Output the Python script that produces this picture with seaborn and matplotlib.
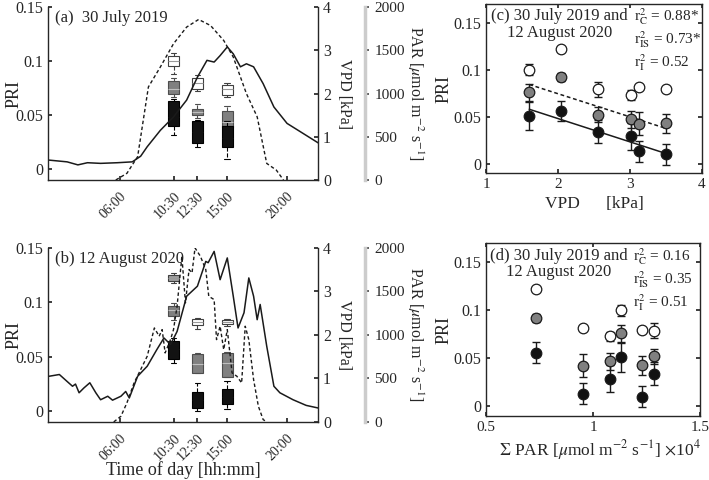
import numpy as np
import pandas as pd
import matplotlib
matplotlib.use("Agg")
import matplotlib.pyplot as plt
import seaborn as sns

# ─── Data ─────────────────────────────────────────────────────────────────────
TIME_TICKS = [6.0, 10.5, 12.5, 15.0, 20.0]
TIME_LABELS = ["06:00", "10:30", "12:30", "15:00", "20:00"]
BOX_TIMES = [10.5, 12.5, 15.0]

# five readings per box: lower whisker, q1, median, q3, upper whisker
A_WHITE = [[0.0886, 0.096, 0.100, 0.1045, 0.108],
           [0.072, 0.0747, 0.080, 0.0845, 0.087],
           [0.067, 0.069, 0.0738, 0.0778, 0.080]]
A_GRAY = [[0.067, 0.070, 0.0738, 0.0817, 0.0845],
          [0.0476, 0.050, 0.053, 0.0556, 0.060],
          [0.037, 0.0393, 0.044, 0.0538, 0.0584]]
A_BLACK = [[0.032, 0.040, 0.0485, 0.063, 0.065],
           [0.0203, 0.0246, 0.034, 0.0446, 0.046],
           [0.0092, 0.0203, 0.029, 0.040, 0.045]]

B_WHITE = [[0.118, 0.1194, 0.1225, 0.1255, 0.127],
           [0.075, 0.0787, 0.0817, 0.0842, 0.086],
           [0.0785, 0.0805, 0.0823, 0.084, 0.085]]
B_GRAY = [[0.084, 0.0873, 0.0928, 0.097, 0.0998],
          [0.0346, 0.0346, 0.0429, 0.052, 0.0536],
          [0.0316, 0.0316, 0.0438, 0.053, 0.054]]
B_BLACK = [[0.0444, 0.048, 0.0566, 0.0643, 0.067],
           [0.0, 0.0031, 0.010, 0.0175, 0.026],
           [0.002, 0.0061, 0.013, 0.020, 0.0275]]

# VPD (solid) and PAR (dashed) diurnal courses
A_VPD_H = [0.1, 1.6, 2.5, 3.3, 4.4, 5.8, 7.05, 7.75, 8.3, 9.4, 10.5, 11.6,
           12.5, 13.3, 13.9, 14.4, 15.0, 15.5, 16.1, 16.6, 17.2, 18.0, 18.9,
           20.0, 21.1, 22.6]
A_VPD = [0.46, 0.42, 0.35, 0.40, 0.385, 0.40, 0.42, 0.55, 0.77, 1.15, 1.46,
         1.85, 2.38, 2.77, 2.73, 2.88, 3.08, 2.92, 2.62, 2.69, 2.62, 2.23,
         1.69, 1.31, 1.12, 0.86]
A_PAR_H = [5.67, 6.6, 7.5, 8.4, 9.4, 10.5, 11.6, 12.6, 13.6, 14.7, 15.5,
           16.6, 17.5, 18.3, 19.1, 19.7]
A_PAR = [0, 77, 270, 1077, 1308, 1577, 1770, 1858, 1788, 1615, 1423, 1000,
         731, 192, 115, 0]

B_VPD_H = [0.1, 0.95, 1.6, 2.05, 2.3, 2.6, 3.0, 3.5, 4.0, 4.4, 5.0, 5.4, 6.1,
           6.5, 6.8, 7.5, 8.3, 9.1, 9.7, 10.25, 10.8, 11.6, 12.5, 13.2, 13.4,
           13.9, 14.4, 15.0, 15.5, 15.9, 16.4, 16.8, 17.2, 17.5, 17.75, 18.3,
           18.9, 19.4, 20.5, 21.6, 22.6]
B_VPD = [1.05, 1.09, 0.93, 0.82, 0.87, 0.67, 0.78, 0.90, 0.67, 0.51, 0.59,
         0.50, 0.59, 0.70, 0.55, 1.05, 1.28, 1.66, 1.93, 1.78, 2.08, 2.89,
         3.12, 3.69, 3.66, 3.92, 3.27, 3.77, 2.89, 2.16, 2.51, 3.31, 2.89,
         2.35, 2.70, 1.74, 0.82, 0.67, 0.51, 0.38, 0.32]
B_PAR_H = [5.5, 6.1, 6.6, 7.2, 7.75, 8.3, 8.9, 9.3, 9.55, 9.8, 10.25, 10.5,
           10.8, 11.2, 11.5, 11.8, 12.05, 12.3, 12.75, 13.2, 13.45, 13.9,
           14.1, 14.4, 14.7, 15.0, 15.4, 15.8, 16.2, 16.5, 16.8, 17.2, 17.6,
           18.0, 18.3]
B_PAR = [0, 65, 218, 448, 601, 755, 1080, 985, 1061, 793, 946, 1061, 1330,
         1904, 1368, 1751, 1713, 2000, 1904, 1751, 1444, 1406, 946, 1100, 831,
         1061, 563, 525, 448, 1100, 946, 487, 180, 27, 0]

# Mean PRI +- error per measurement (both days pooled)
VPD_PTS = [1.60, 2.04, 2.55, 3.01, 3.12, 3.50]
PAR_SUM = [1.129, 0.733, 1.286, 1.080, 0.951, 1.229]   # x 10^4
PRI_WHITE = [0.100, 0.122, 0.079, 0.073, 0.082, 0.080]
ERR_WHITE = [0.006, 0.002, 0.008, 0.005, 0.002, 0.002]
PRI_GRAY = [0.076, 0.092, 0.052, 0.047, 0.0425, 0.043]
ERR_GRAY = [0.009, 0.004, 0.008, 0.009, 0.012, 0.010]
PRI_BLACK = [0.051, 0.056, 0.034, 0.029, 0.013, 0.010]
ERR_BLACK = [0.015, 0.011, 0.012, 0.014, 0.011, 0.011]

R2_C = ["0.88*", "0.73*", "0.52"]
R2_D = ["0.16", "0.35", "0.51"]

# ─── Style ────────────────────────────────────────────────────────────────────
sns.set_theme(style="ticks")
plt.rcParams["font.family"] = ["Liberation Serif", "DejaVu Serif"]
plt.rcParams["mathtext.fontset"] = "stix"
plt.rcParams["font.size"] = 11
plt.rcParams["axes.linewidth"] = 1.0

FS = 11.5
CLASSES = [
    # (fill, edge, median)
    ("white", "0.25", "0.6"),
    ("0.5", "0.3", "0.75"),
    ("0.07", "0.0", "0.07"),
]


def box_frame(boxes):
    rows = [(t, v) for t, vals in zip(BOX_TIMES, boxes) for v in vals]
    return pd.DataFrame(rows, columns=["time", "pri"])


def draw_day(ax, boxes, vpd_h, vpd, par_h, par, label, xlabel=None):
    for data, (fill, edge, med) in zip(boxes, CLASSES):
        sns.boxplot(data=box_frame(data), x="time", y="pri", native_scale=True,
                    width=0.48, color=fill, linecolor=edge, linewidth=0.8,
                    saturation=1, showfliers=False,
                    whiskerprops=dict(linestyle="--"),
                    medianprops=dict(color=med), ax=ax)
    ax.set_xlim(0, 22.6)
    ax.set_ylim(-0.01, 0.15)
    ax.set_yticks([0, 0.05, 0.1, 0.15])
    ax.set_yticklabels(["0", "0.05", "0.1", "0.15"], fontsize=FS)
    ax.set_xticks(TIME_TICKS)
    ax.set_xticklabels(TIME_LABELS, rotation=45, ha="right", va="top",
                       rotation_mode="anchor", fontsize=10)
    ax.set_ylabel("PRI", fontsize=13)
    ax.yaxis.set_label_coords(-0.095, 0.5)
    ax.set_xlabel(xlabel if xlabel else "", fontsize=13)
    ax.xaxis.set_label_coords(0.5, -0.225)
    ax.spines[["top", "right"]].set_visible(False)
    ax.tick_params(direction="in", length=3)
    ax.tick_params(axis="x", pad=7)
    ax.text(0.025, 0.935, label, transform=ax.transAxes, fontsize=FS + 0.5,
            va="center", ha="left")

    ax_vpd = ax.twinx()
    sns.lineplot(x=vpd_h, y=vpd, ax=ax_vpd, color="k", lw=1.1)
    ax_vpd.set_ylim(0, 4)
    ax_vpd.set_yticks([0, 1, 2, 3, 4])
    ax_vpd.set_yticklabels(["0", "1", "2", "3", "4"], fontsize=FS)
    ax_vpd.spines[["top", "left", "bottom"]].set_visible(False)
    ax_vpd.tick_params(direction="in", length=3)
    ax_vpd.set_ylabel("VPD [kPa]", rotation=270, va="center", fontsize=FS)
    ax_vpd.yaxis.set_label_coords(1.095, 0.5)

    ax_par = ax.twinx()
    sns.lineplot(x=par_h, y=par, ax=ax_par, color="k", lw=1.0,
                 linestyle=(0, (2.5, 1.8)))
    ax_par.set_ylim(0, 2000)
    ax_par.set_yticks([0, 500, 1000, 1500, 2000])
    ax_par.set_yticklabels(["0", "500", "1000", "1500", "2000"], fontsize=FS)
    ax_par.spines[["top", "left", "bottom"]].set_visible(False)
    ax_par.spines["right"].set_position(("outward", 34))
    ax_par.spines["right"].set_color("0.8")
    ax_par.spines["right"].set_linewidth(2.5)
    ax_par.tick_params(direction="out", length=3, color="0.3")
    ax_par.set_ylabel(r"PAR [$\mu$mol m$^{-2}$ s$^{-1}$]", rotation=270,
                      va="center", fontsize=FS)
    ax_par.yaxis.set_label_coords(1.36, 0.5)
    ax_par.set_xlim(0, 22.6)
    ax_vpd.set_xlim(0, 22.6)


def draw_means(ax, xs, label, r2, xlabel, xticks, regress=False):
    for pri, err, (fill, edge, _) in zip([PRI_WHITE, PRI_GRAY, PRI_BLACK],
                                         [ERR_WHITE, ERR_GRAY, ERR_BLACK],
                                         CLASSES):
        ax.errorbar(xs, pri, yerr=err, fmt="none", ecolor="k", elinewidth=1,
                    capsize=3, capthick=1, zorder=2)
        sns.scatterplot(x=xs, y=pri, ax=ax, color=fill, edgecolor="0.1",
                        linewidth=0.9, s=58, zorder=3)
    if regress:
        sns.regplot(x=np.array(xs), y=np.array(PRI_GRAY), ax=ax, scatter=False,
                    ci=None, line_kws=dict(color="k", lw=1.1, ls=(0, (2.5, 1.8))))
        sns.regplot(x=np.array(xs), y=np.array(PRI_BLACK), ax=ax, scatter=False,
                    ci=None, line_kws=dict(color="k", lw=1.1))
    ax.set_xlim(xticks[0], xticks[-1])
    ax.set_ylim(-0.01, 0.17)
    ax.set_yticks([0, 0.05, 0.1, 0.15])
    ax.set_yticklabels(["0", "0.05", "0.1", "0.15"], fontsize=FS)
    ax.set_xticks(xticks)
    ax.set_xticklabels([f"{t:g}" for t in xticks], fontsize=11)
    ax.tick_params(direction="in", length=3, top=True, right=True)
    ax.set_ylabel("PRI", fontsize=13)
    ax.yaxis.set_label_coords(-0.155, 0.5)
    ax.set_xlabel(xlabel, fontsize=12.5)
    ax.text(0.34, 0.88, label, transform=ax.transAxes, fontsize=FS + 0.5,
            ha="center", va="center", multialignment="center", linespacing=1.05)
    subs = ["C", "IS", "I"]
    ys = [0.925, 0.79, 0.655]
    for sub, val, y in zip(subs, r2, ys):
        ax.text(0.685, y, rf"r$^2_\mathrm{{{sub}}}$ = {val}", transform=ax.transAxes,
                fontsize=FS - 0.5, ha="left", va="center")


fig = plt.figure(figsize=(7.09, 4.8), dpi=100)
ax_a = fig.add_axes([0.0677, 0.625, 0.381, 0.360])
ax_b = fig.add_axes([0.0677, 0.121, 0.381, 0.3625])
ax_c = fig.add_axes([0.6855, 0.6396, 0.3047, 0.352])
ax_d = fig.add_axes([0.6855, 0.1333, 0.302, 0.360])

draw_day(ax_a, [A_WHITE, A_GRAY, A_BLACK], A_VPD_H, A_VPD, A_PAR_H, A_PAR,
         "(a)  30 July 2019")
draw_day(ax_b, [B_WHITE, B_GRAY, B_BLACK], B_VPD_H, B_VPD, B_PAR_H, B_PAR,
         "(b) 12 August 2020", xlabel="Time of day [hh:mm]")

# the 10:30 top box of 12 August 2020 is shaded grey in the reference
ax_b.patches[0].set_facecolor("0.62")

draw_means(ax_c, VPD_PTS, "(c) 30 July 2019 and\n12 August 2020", R2_C,
           "VPD      [kPa]", [1, 2, 3, 4], regress=True)
draw_means(ax_d, PAR_SUM, "(d) 30 July 2019 and\n12 August 2020", R2_D,
           r"$\Sigma$ PAR [$\mu$mol m$^{-2}$ s$^{-1}$] $\times$10$^4$",
           [0.5, 1, 1.5])
ax_d.xaxis.set_label_coords(0.53, -0.13)

fig.savefig("out.png", dpi=100)
plt.close(fig)
